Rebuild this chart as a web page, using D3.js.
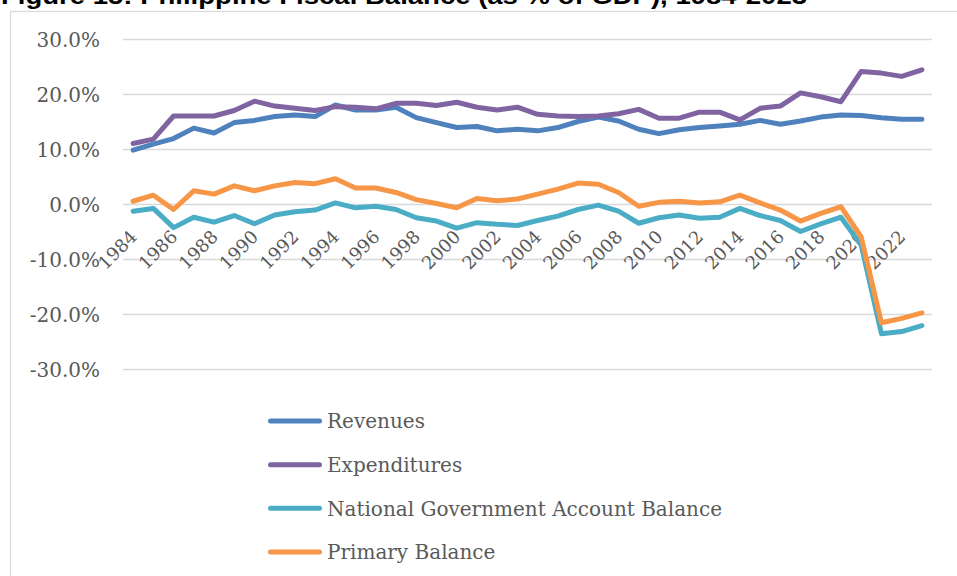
<!DOCTYPE html>
<html>
<head>
<meta charset="utf-8">
<script src="https://cdn.jsdelivr.net/npm/d3@7"></script>
<style>
  html, body { margin: 0; padding: 0; background: #fff; }
  svg { display: block; }
</style>
</head>
<body>
<svg id="chart" width="957" height="576"></svg>
<script>
const years = ["1984","1985","1986","1987","1988","1989","1990","1991","1992","1993",
  "1994","1995","1996","1997","1998","1999","2000","2001","2002","2003",
  "2004","2005","2006","2007","2008","2009","2010","2011","2012","2013",
  "2014","2015","2016","2017","2018","2019","2020","2021","2022","2023"];
const tickYears = ["1984","1986","1988","1990","1992","1994","1996","1998","2000","2002",
  "2004","2006","2008","2010","2012","2014","2016","2018","2020","2022"];
const yTicks = [-30, -20, -10, 0, 10, 20, 30];

const revenues = [9.8,10.9,11.9,13.8,12.9,14.8,15.2,15.9,16.2,15.9,
  18.0,17.1,17.1,17.6,15.7,14.8,13.9,14.1,13.3,13.6,
  13.3,13.9,15.0,15.8,15.1,13.6,12.8,13.5,13.9,14.2,
  14.5,15.2,14.5,15.1,15.8,16.2,16.1,15.7,15.4,15.4];
const expenditures = [11.0,11.8,16.0,16.0,16.0,17.0,18.7,17.8,17.4,17.0,
  17.7,17.6,17.3,18.3,18.3,17.9,18.5,17.6,17.1,17.6,
  16.3,16.0,15.9,16.0,16.4,17.2,15.6,15.6,16.7,16.7,
  15.3,17.4,17.8,20.2,19.5,18.6,24.1,23.8,23.2,24.4];
const ngBalance = [-1.3,-0.8,-4.3,-2.4,-3.3,-2.1,-3.6,-2.0,-1.4,-1.1,
  0.2,-0.7,-0.4,-1.0,-2.5,-3.1,-4.4,-3.4,-3.7,-3.9,
  -3.0,-2.2,-1.0,-0.2,-1.3,-3.5,-2.5,-2.0,-2.6,-2.4,
  -0.8,-2.1,-3.0,-5.0,-3.6,-2.4,-7.5,-23.6,-23.2,-22.1];
const primaryBalance = [0.5,1.6,-1.0,2.4,1.8,3.3,2.4,3.3,3.9,3.7,
  4.6,2.9,2.9,2.1,0.8,0.1,-0.7,1.0,0.6,0.9,
  1.8,2.7,3.8,3.6,2.1,-0.4,0.3,0.5,0.2,0.4,
  1.6,0.2,-1.1,-3.1,-1.7,-0.5,-6.0,-21.6,-20.8,-19.8];

const seriesNames = ["Revenues","Expenditures","National Government Account Balance","Primary Balance"];
const seriesColors = ["#4F81BD","#8064A2","#4BACC6","#F79646"];
const seriesValues = [revenues, expenditures, ngBalance, primaryBalance];

const svg = d3.select("#chart");
const serif = "'DejaVu Serif', serif";
const textGray = "#595959";

// Title (clipped at top as in reference)
svg.append("text")
  .attr("x", 1).attr("y", 4)
  .attr("font-family", "'Liberation Sans', Arial, sans-serif")
  .attr("font-weight", "bold")
  .attr("font-size", 24)
  .attr("textLength", 806)
  .attr("lengthAdjust", "spacingAndGlyphs")
  .attr("fill", "#000")
  .text("Figure 15: Philippine Fiscal Balance (as % of GDP), 1984-2023");

// Chart frame
svg.append("rect")
  .attr("x", 10.5).attr("y", 11.5)
  .attr("width", 960).attr("height", 600)
  .attr("fill", "none")
  .attr("stroke", "#d9d9d9")
  .attr("stroke-width", 1.2);

const x = d3.scalePoint().domain(years).range([123, 932]).padding(0.5);
const y = d3.scaleLinear().domain([-30, 30]).range([369, 39]);

// Gridlines + y labels
const yAxis = d3.axisLeft(y).tickValues(yTicks).tickSize(-(932 - 123))
  .tickFormat(d => d.toFixed(1) + "%").tickPadding(23);
const gy = svg.append("g").attr("transform", "translate(123,0)").call(yAxis);
gy.select(".domain").remove();
gy.selectAll(".tick line").attr("stroke", "#d9d9d9").attr("stroke-width", 1.5);
gy.selectAll(".tick text")
  .attr("font-family", serif).attr("font-size", 20).attr("fill", textGray)
  .attr("dy", "0.36em");

// X axis labels (rotated), sitting below zero line
const xAxis = d3.axisBottom(x).tickValues(tickYears).tickSize(0).tickPadding(0);
const gx = svg.append("g").attr("transform", `translate(0,${y(0)})`).call(xAxis);
gx.select(".domain").remove();
gx.selectAll(".tick text")
  .attr("font-family", serif).attr("font-size", 18).attr("fill", textGray)
  .attr("text-anchor", "end")
  .attr("dy", null).attr("y", null)
  .attr("transform", "translate(4.5,34) rotate(-45)");

// Lines
const line = d3.line().x((d, i) => x(years[i])).y(d => y(d));
seriesValues.forEach((vals, k) => {
  svg.append("path")
    .datum(vals)
    .attr("d", line)
    .attr("fill", "none")
    .attr("stroke", seriesColors[k])
    .attr("stroke-width", 5)
    .attr("stroke-linejoin", "round")
    .attr("stroke-linecap", "round");
});

// Legend
const legendY = d3.scalePoint().domain(seriesNames).range([421, 552]);
const lg = svg.append("g");
seriesNames.forEach((name, k) => {
  const ly = legendY(name);
  lg.append("line")
    .attr("x1", 270.5).attr("x2", 319.5).attr("y1", ly).attr("y2", ly)
    .attr("stroke", seriesColors[k]).attr("stroke-width", 5)
    .attr("stroke-linecap", "round");
  lg.append("text")
    .attr("x", 327).attr("y", ly).attr("dy", "0.36em")
    .attr("font-family", serif).attr("font-size", 20).attr("fill", textGray)
    .text(name);
});
</script>
</body>
</html>
